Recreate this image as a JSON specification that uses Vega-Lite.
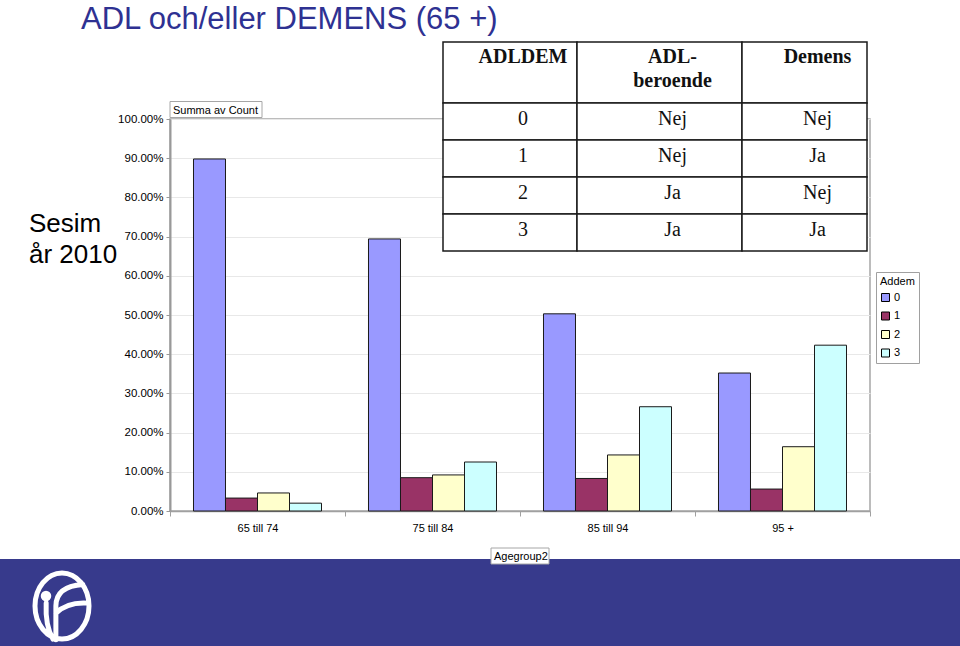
{
  "$schema": "https://vega.github.io/schema/vega-lite/v6.json",
  "width": 700,
  "height": 392,
  "autosize": {"type": "none"},
  "padding": {"left": 170, "top": 119, "right": 90, "bottom": 135},
  "background": "white",
  "config": {
    "view": {"stroke": "#a6a6a6", "strokeWidth": 1.5},
    "font": "Liberation Sans"
  },
  "layer": [
    {
      "data": {"values": [
        {"age": "65 till 74", "addem": "0", "pct": 0.898},
        {"age": "65 till 74", "addem": "1", "pct": 0.033},
        {"age": "65 till 74", "addem": "2", "pct": 0.046},
        {"age": "65 till 74", "addem": "3", "pct": 0.020},
        {"age": "75 till 84", "addem": "0", "pct": 0.694},
        {"age": "75 till 84", "addem": "1", "pct": 0.085},
        {"age": "75 till 84", "addem": "2", "pct": 0.092},
        {"age": "75 till 84", "addem": "3", "pct": 0.125},
        {"age": "85 till 94", "addem": "0", "pct": 0.503},
        {"age": "85 till 94", "addem": "1", "pct": 0.083},
        {"age": "85 till 94", "addem": "2", "pct": 0.143},
        {"age": "85 till 94", "addem": "3", "pct": 0.266},
        {"age": "95 +", "addem": "0", "pct": 0.352},
        {"age": "95 +", "addem": "1", "pct": 0.056},
        {"age": "95 +", "addem": "2", "pct": 0.164},
        {"age": "95 +", "addem": "3", "pct": 0.423}
      ]},
      "mark": {"type": "bar", "stroke": "#1a1a1a", "strokeWidth": 1},
      "encoding": {
        "x": {
          "field": "age", "type": "nominal",
          "sort": ["65 till 74", "75 till 84", "85 till 94", "95 +"],
          "scale": {"paddingInner": 0, "paddingOuter": 0},
          "axis": {
            "title": null, "labelAngle": 0, "tickBand": "extent",
            "labelFontSize": 11, "labelColor": "#000",
            "domainColor": "#a0a0a0", "domainWidth": 1.5,
            "tickColor": "#a0a0a0", "tickSize": 5, "labelPadding": 6, "grid": false
          }
        },
        "xOffset": {
          "field": "addem", "type": "nominal",
          "scale": {"paddingInner": 0, "paddingOuter": 0.734}
        },
        "y": {
          "field": "pct", "type": "quantitative",
          "scale": {"domain": [0, 1], "nice": false},
          "axis": {
            "title": null,
            "values": [0, 0.1, 0.2, 0.3, 0.4, 0.5, 0.6, 0.7, 0.8, 0.9, 1],
            "format": ".2%", "labelFontSize": 11.5, "labelColor": "#000",
            "grid": true, "gridColor": "#e8e8e8",
            "domainColor": "#999999", "domainWidth": 2,
            "tickColor": "#999999", "tickSize": 4, "labelPadding": 3
          }
        },
        "color": {
          "field": "addem", "type": "nominal",
          "scale": {"domain": ["0", "1", "2", "3"], "range": ["#9999FF", "#993366", "#FFFFCC", "#CCFFFF"]},
          "legend": {
            "title": "Addem", "orient": "none", "legendX": 706, "legendY": 153,
            "strokeColor": "#a0a0a0", "fillColor": "white", "padding": 4,
            "titleFontSize": 11, "titleFontWeight": "normal", "titleColor": "#000",
            "labelFontSize": 11, "labelColor": "#000",
            "symbolType": "square", "symbolSize": 64,
            "symbolStrokeColor": "#000", "symbolStrokeWidth": 1,
            "rowPadding": 5.5, "titlePadding": 5, "labelOffset": 3
          }
        }
      }
    },
    {
      "data": {"values": [
        {"c": 0, "c2": 1, "cm": 0.5, "r": 0, "r2": 1, "rm": 0.5, "label": "ADLDEM"},
        {"c": 1, "c2": 2, "cm": 1.5, "r": 0, "r2": 1, "rm": 0.5, "label": "ADL-\nberoende"},
        {"c": 2, "c2": 3, "cm": 2.5, "r": 0, "r2": 1, "rm": 0.5, "label": "Demens"},
        {"c": 0, "c2": 1, "cm": 0.5, "r": 1, "r2": 2, "rm": 1.5, "label": "0"},
        {"c": 1, "c2": 2, "cm": 1.5, "r": 1, "r2": 2, "rm": 1.5, "label": "Nej"},
        {"c": 2, "c2": 3, "cm": 2.5, "r": 1, "r2": 2, "rm": 1.5, "label": "Nej"},
        {"c": 0, "c2": 1, "cm": 0.5, "r": 2, "r2": 3, "rm": 2.5, "label": "1"},
        {"c": 1, "c2": 2, "cm": 1.5, "r": 2, "r2": 3, "rm": 2.5, "label": "Nej"},
        {"c": 2, "c2": 3, "cm": 2.5, "r": 2, "r2": 3, "rm": 2.5, "label": "Ja"},
        {"c": 0, "c2": 1, "cm": 0.5, "r": 3, "r2": 4, "rm": 3.5, "label": "2"},
        {"c": 1, "c2": 2, "cm": 1.5, "r": 3, "r2": 4, "rm": 3.5, "label": "Ja"},
        {"c": 2, "c2": 3, "cm": 2.5, "r": 3, "r2": 4, "rm": 3.5, "label": "Nej"},
        {"c": 0, "c2": 1, "cm": 0.5, "r": 4, "r2": 5, "rm": 4.5, "label": "3"},
        {"c": 1, "c2": 2, "cm": 1.5, "r": 4, "r2": 5, "rm": 4.5, "label": "Ja"},
        {"c": 2, "c2": 3, "cm": 2.5, "r": 4, "r2": 5, "rm": 4.5, "label": "Ja"}
      ]},
      "layer": [
        {
          "mark": {"type": "rect", "fill": "white", "stroke": "#1a1a1a", "strokeWidth": 1.5},
          "encoding": {
            "x": {"field": "c", "type": "quantitative", "scale": {"domain": [0, 1, 2, 3], "range": [273, 407, 572, 697], "nice": false, "zero": false}, "axis": null},
            "x2": {"field": "c2"},
            "y": {"field": "r", "type": "quantitative", "scale": {"domain": [0, 1, 2, 3, 4, 5], "range": [-77, -16, 21, 58, 95, 132], "nice": false, "zero": false}, "axis": null},
            "y2": {"field": "r2"}
          }
        },
        {
          "transform": [{"filter": "datum.r == 0"}],
          "mark": {"type": "text", "font": "Liberation Serif", "fontSize": 20, "fontWeight": "bold", "baseline": "alphabetic", "align": "center", "dx": 13, "dy": -9.5, "lineHeight": 24, "lineBreak": "\n", "color": "#111"},
          "encoding": {
            "x": {"field": "cm", "type": "quantitative", "scale": {"domain": [0, 1, 2, 3], "range": [273, 407, 572, 697], "nice": false, "zero": false}, "axis": null},
            "y": {"field": "rm", "type": "quantitative", "scale": {"domain": [0, 1, 2, 3, 4, 5], "range": [-77, -16, 21, 58, 95, 132], "nice": false, "zero": false}, "axis": null},
            "text": {"field": "label"}
          }
        },
        {
          "transform": [{"filter": "datum.r > 0"}],
          "mark": {"type": "text", "font": "Liberation Serif", "fontSize": 20, "baseline": "alphabetic", "align": "center", "dx": 13, "dy": 3.5, "color": "#111"},
          "encoding": {
            "x": {"field": "cm", "type": "quantitative", "scale": {"domain": [0, 1, 2, 3], "range": [273, 407, 572, 697], "nice": false, "zero": false}, "axis": null},
            "y": {"field": "rm", "type": "quantitative", "scale": {"domain": [0, 1, 2, 3, 4, 5], "range": [-77, -16, 21, 58, 95, 132], "nice": false, "zero": false}, "axis": null},
            "text": {"field": "label"}
          }
        }
      ]
    },
    {
      "layer": [
        {
          "data": {"values": [{"x": 0, "x2": 960, "y": 559, "y2": 646}]},
          "mark": {"type": "rect", "fill": "#373a8c"},
          "encoding": {
            "x": {"field": "x", "type": "quantitative", "scale": {"domain": [170, 870], "nice": false, "zero": false}, "axis": null},
            "x2": {"field": "x2"},
            "y": {"field": "y", "type": "quantitative", "scale": {"domain": [119, 511], "reverse": true, "nice": false, "zero": false}, "axis": null},
            "y2": {"field": "y2"}
          }
        },
        {
          "data": {"values": [
            {"x": 170, "x2": 262, "y": 101.5, "y2": 117.5},
            {"x": 491, "x2": 549, "y": 548, "y2": 564}
          ]},
          "mark": {"type": "rect", "fill": "white", "stroke": "#a6a6a6", "strokeWidth": 1},
          "encoding": {
            "x": {"field": "x", "type": "quantitative", "scale": {"domain": [170, 870], "nice": false, "zero": false}, "axis": null},
            "x2": {"field": "x2"},
            "y": {"field": "y", "type": "quantitative", "scale": {"domain": [119, 511], "reverse": true, "nice": false, "zero": false}, "axis": null},
            "y2": {"field": "y2"}
          }
        },
        {
          "data": {"values": [{"x": 81, "y": 29, "t": "ADL och/eller DEMENS (65 +)"}]},
          "mark": {"type": "text", "fontSize": 31, "color": "#2e3192", "align": "left", "baseline": "alphabetic"},
          "encoding": {
            "x": {"field": "x", "type": "quantitative", "scale": {"domain": [170, 870], "nice": false, "zero": false}, "axis": null},
            "y": {"field": "y", "type": "quantitative", "scale": {"domain": [119, 511], "reverse": true, "nice": false, "zero": false}, "axis": null},
            "text": {"field": "t"}
          }
        },
        {
          "data": {"values": [{"x": 29, "y": 232, "t": "Sesim"}, {"x": 29, "y": 263, "t": "år 2010"}]},
          "mark": {"type": "text", "fontSize": 26, "color": "#000", "align": "left", "baseline": "alphabetic"},
          "encoding": {
            "x": {"field": "x", "type": "quantitative", "scale": {"domain": [170, 870], "nice": false, "zero": false}, "axis": null},
            "y": {"field": "y", "type": "quantitative", "scale": {"domain": [119, 511], "reverse": true, "nice": false, "zero": false}, "axis": null},
            "text": {"field": "t"}
          }
        },
        {
          "data": {"values": [{"x": 173, "y": 113.5, "t": "Summa av Count"}, {"x": 494, "y": 560, "t": "Agegroup2"}]},
          "mark": {"type": "text", "fontSize": 11, "color": "#000", "align": "left", "baseline": "alphabetic"},
          "encoding": {
            "x": {"field": "x", "type": "quantitative", "scale": {"domain": [170, 870], "nice": false, "zero": false}, "axis": null},
            "y": {"field": "y", "type": "quantitative", "scale": {"domain": [119, 511], "reverse": true, "nice": false, "zero": false}, "axis": null},
            "text": {"field": "t"}
          }
        },
        {
          "data": {"values": [{"x": 62, "y": 606}]},
          "mark": {
            "type": "point", "filled": false, "opacity": 1, "stroke": "white", "strokeWidth": 5, "strokeCap": "round", "size": 5184,
            "shape": "M 0 -0.917 C 0.414 -0.917 0.75 -0.506 0.75 0 C 0.75 0.506 0.414 0.917 0 0.917 C -0.414 0.917 -0.75 0.506 -0.75 0 C -0.75 -0.506 -0.414 -0.917 0 -0.917 Z M -0.44 -0.08 Q -0.47 0.55 -0.25 0.92 M -0.17 0.94 L -0.17 0 Q -0.17 -0.55 0.58 -0.6 M -0.17 0.2 Q 0.15 -0.12 0.72 -0.08"
          },
          "encoding": {
            "x": {"field": "x", "type": "quantitative", "scale": {"domain": [170, 870], "nice": false, "zero": false}, "axis": null},
            "y": {"field": "y", "type": "quantitative", "scale": {"domain": [119, 511], "reverse": true, "nice": false, "zero": false}, "axis": null}
          }
        },
        {
          "data": {"values": [{"x": 46, "y": 596}]},
          "mark": {"type": "point", "shape": "circle", "filled": true, "opacity": 1, "color": "white", "size": 110},
          "encoding": {
            "x": {"field": "x", "type": "quantitative", "scale": {"domain": [170, 870], "nice": false, "zero": false}, "axis": null},
            "y": {"field": "y", "type": "quantitative", "scale": {"domain": [119, 511], "reverse": true, "nice": false, "zero": false}, "axis": null}
          }
        }
      ]
    }
  ],
  "resolve": {
    "scale": {"x": "independent", "y": "independent"},
    "axis": {"x": "independent", "y": "independent"}
  }
}
